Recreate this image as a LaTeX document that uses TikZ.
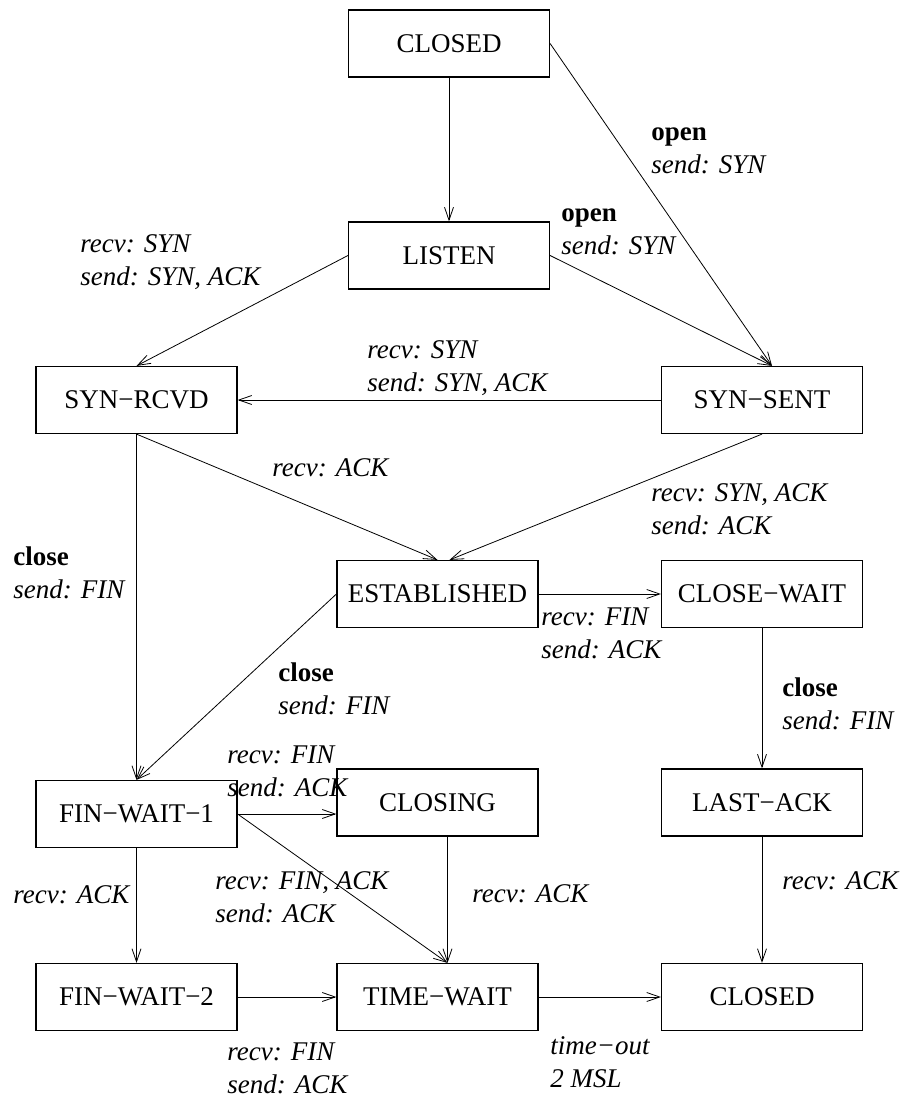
\documentclass[tikz,border=0pt]{standalone}
\usepackage{fontspec}
\setmainfont{Liberation Serif}
\usetikzlibrary{arrows.meta}
\newcommand{\evt}[1]{\textbf{#1}}
\newcommand{\act}[1]{\textit{#1}}

\begin{document}
\begin{tikzpicture}[x=0.5pt,y=-0.5pt,
    font=\fontsize{13.5}{16.5}\selectfont,
    >={Straight Barb[length=6.5pt,width=4.5pt]},
    state/.style={draw,line width=0.6pt,minimum width=100.5pt,minimum height=33.5pt,inner sep=0pt},
    lbl/.style={anchor=base west,align=left,inner sep=0pt},
    lbltwo/.style={lbl,yshift=-16.5pt}]
  \useasboundingbox (0,0) rectangle (902,1097);

  % states
  \node[state] (closedtop) at (449,43.5)  {CLOSED};
  \node[state] (listen)    at (449,255.5) {LISTEN};
  \node[state] (synrcvd)   at (136.5,400) {SYN−RCVD};
  \node[state] (synsent)   at (762,400)   {SYN−SENT};
  \node[state] (estab)     at (437.5,594) {ESTABLISHED};
  \node[state] (closewait) at (762,594)   {CLOSE−WAIT};
  \node[state] (finwait1)  at (136.5,814) {FIN−WAIT−1};
  \node[state] (closing)   at (437.5,802.5) {CLOSING};
  \node[state] (lastack)   at (762,802.5) {LAST−ACK};
  \node[state] (finwait2)  at (136.5,997) {FIN−WAIT−2};
  \node[state] (timewait)  at (437.5,997) {TIME−WAIT};
  \node[state] (closedbot) at (762,997)   {CLOSED};

  % transitions
  \draw[->] (closedtop) -- (listen);
  \draw[->] (closedtop.east) -- ([xshift=5pt]synsent.north);
  \draw[->] (listen.east) -- ([xshift=5pt]synsent.north);
  \draw[->] (listen.west) -- (synrcvd.north);
  \draw[->] (synsent) -- (synrcvd);
  \draw[->] (synrcvd) -- (finwait1);
  \draw[->] (synrcvd.south) -- (estab.north);
  \draw[->] (synsent.south) -- ([xshift=6pt]estab.north);
  \draw[->] (estab) -- (closewait);
  \draw[->] (estab.west) -- (finwait1.north);
  \draw[->] (closewait) -- (lastack);
  \draw[->] (lastack) -- (closedbot);
  \draw[->] (finwait1.east) -- (finwait1.east -| closing.west);
  \draw[->] (finwait1.east) -- ([xshift=5pt]timewait.north);
  \draw[->] ([xshift=5pt]closing.south) -- ([xshift=5pt]timewait.north);
  \draw[->] (finwait1) -- (finwait2);
  \draw[->] (finwait2) -- (timewait);
  \draw[->] (timewait) -- (closedbot);

  % labels (first baseline)
  \node[lbltwo] (l1)  at (651,140)  {\evt{open}\\\act{send: SYN}};
  \node[lbltwo] (l2)  at (561,221)  {\evt{open}\\\act{send: SYN}};
  \node[lbltwo] (l3)  at (80,252)   {\act{recv: SYN}\\\act{send: SYN, ACK}};
  \node[lbltwo] (l4)  at (367,358)  {\act{recv: SYN}\\\act{send: SYN, ACK}};
  \node[lbl]    (l5)  at (272,476)  {\act{recv: ACK}};
  \node[lbltwo] (l6)  at (651,501)  {\act{recv: SYN, ACK}\\\act{send: ACK}};
  \node[lbltwo] (l7)  at (13,565)   {\evt{close}\\\act{send: FIN}};
  \node[lbltwo] (l8)  at (541,625)  {\act{recv: FIN}\\\act{send: ACK}};
  \node[lbltwo] (l9)  at (278,681)  {\evt{close}\\\act{send: FIN}};
  \node[lbltwo] (l10) at (782,696)  {\evt{close}\\\act{send: FIN}};
  \node[lbltwo] (l11) at (227,763)  {\act{recv: FIN}\\\act{send: ACK}};
  \node[lbl]    (l12) at (13,903)   {\act{recv: ACK}};
  \node[lbltwo] (l13) at (215,889)  {\act{recv: FIN, ACK}\\\act{send: ACK}};
  \node[lbl]    (l14) at (472,902)  {\act{recv: ACK}};
  \node[lbl]    (l15) at (782,889)  {\act{recv: ACK}};
  \node[lbltwo] (l16) at (550,1054) {\act{time−out}\\\act{2 MSL}};
  \node[lbltwo] (l17) at (227,1060) {\act{recv: FIN}\\\act{send: ACK}};
\end{tikzpicture}
\end{document}
